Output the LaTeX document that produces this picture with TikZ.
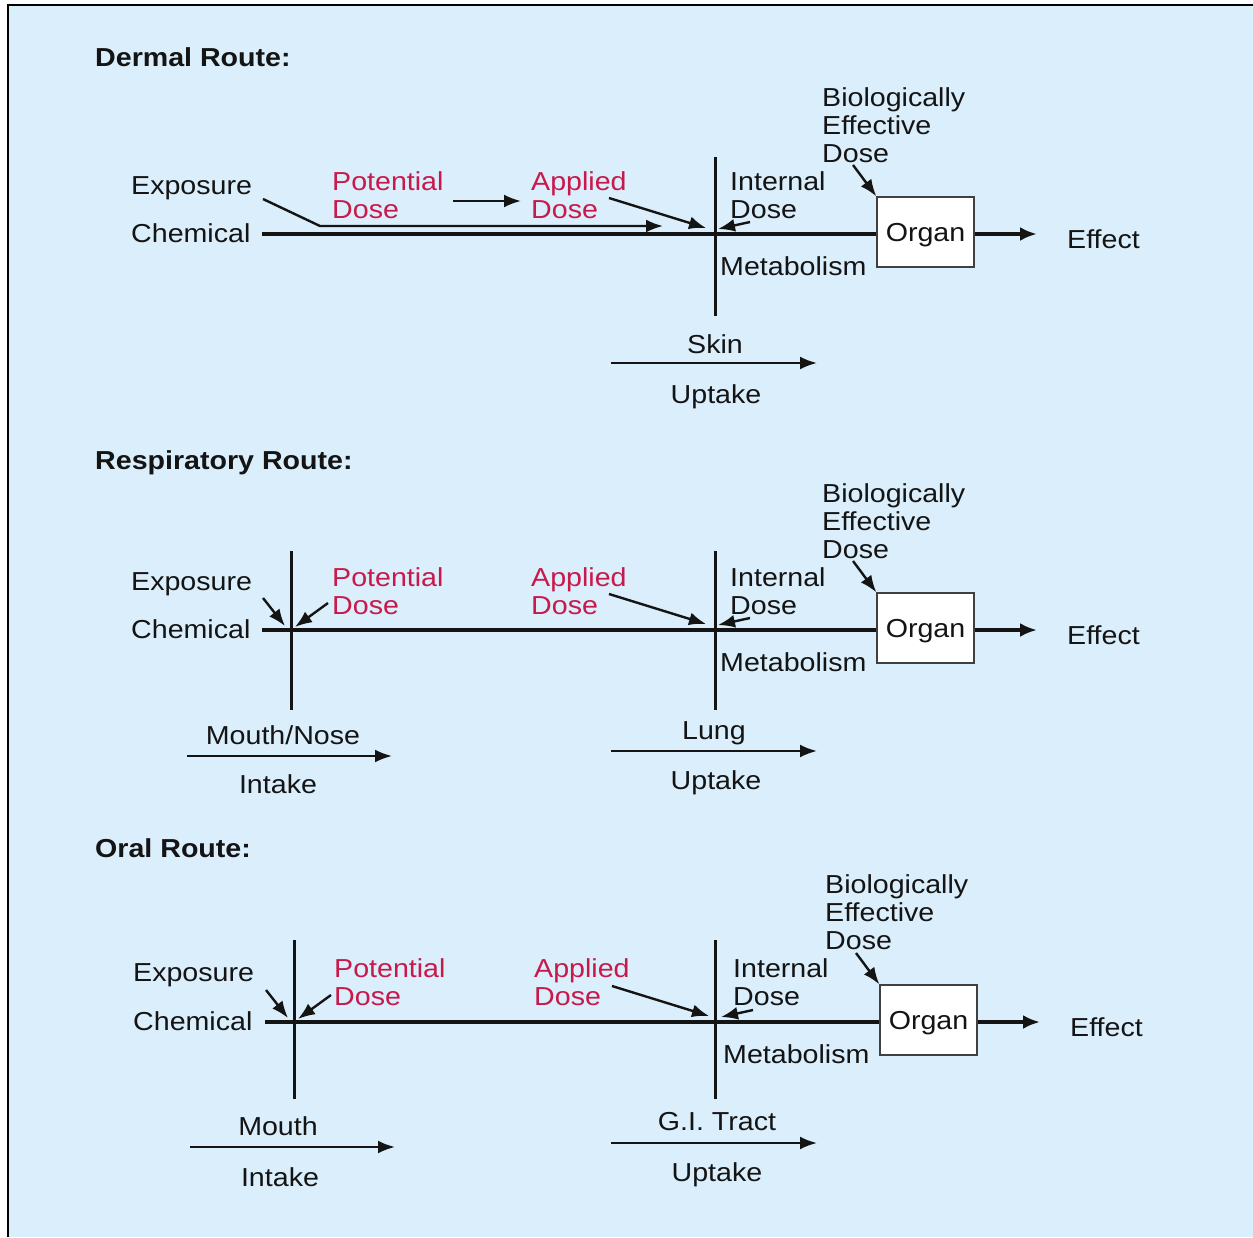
\documentclass[tikz,border=0pt]{standalone}
\usepackage{fontspec}
\setmainfont{Liberation Sans}[FakeStretch=1.1]
\usetikzlibrary{arrows.meta}
\definecolor{bgblue}{RGB}{219,238,251}
\definecolor{dosered}{RGB}{200,25,75}
\definecolor{ink}{RGB}{20,20,20}
\begin{document}
\begin{tikzpicture}[x=1pt,y=-1pt,
  txt/.style={inner sep=0pt, font=\fontsize{26}{28}\selectfont, text=ink},
  lbl/.style={txt, anchor=base west},
  ctr/.style={txt, anchor=base},
  mlbl/.style={txt, anchor=north west, align=left},
  redlbl/.style={mlbl, text=dosered},
  ttl/.style={txt, anchor=base west, font=\fontsize{26}{28}\selectfont\bfseries},
  mainln/.style={line width=3.5pt, draw=ink},
  vertln/.style={line width=3pt, draw=ink},
  thinarr/.style={line width=2.4pt, draw=ink, -{Latex[length=17pt,width=13pt]}},
  thickarr/.style={line width=3.5pt, draw=ink, -{Latex[length=17pt,width=14pt]}},
  organ/.style={txt, draw=black!75, line width=1.3pt, fill=white, minimum width=97pt, minimum height=70pt, text depth=0pt}
]
\useasboundingbox (0,0) rectangle (1253,1237);
\fill[white] (0,0) rectangle (1253,1237);
\fill[bgblue] (8,5) rectangle (1253,1237);
\draw[black, line width=2.5pt] (8,1237) -- (8,5) -- (1253,5);

%% ---------------- Dermal ----------------
\node[ttl] (t1) at (95,66) {Dermal Route:};
\node[lbl] (exp1) at (131,194) {Exposure};
\node[lbl] (chem1) at (131,242) {Chemical};
\node[redlbl] (pot1) at (332,171) {Potential\\Dose};
\node[redlbl] (app1) at (531,171) {Applied\\Dose};
\node[mlbl] (int1) at (730,171) {Internal\\Dose};
\node[mlbl] (bed1) at (822,87) {Biologically\\Effective\\Dose};
\node[lbl] (met1) at (720,275) {Metabolism};
\node[organ] (org1) at (925.5,232) {Organ};
\node[lbl] (eff1) at (1067,248) {Effect};
\node[ctr] (skin) at (715,353) {Skin};
\node[ctr] (upt1) at (716,403) {Uptake};

\coordinate (m1s) at (262,234);
\coordinate (v1t) at (715,157); \coordinate (v1b) at (715,316);
\coordinate (e1a) at (263,199); \coordinate (e1b) at (320,226); \coordinate (e1c) at (663,226);
\coordinate (pa1a) at (453,201); \coordinate (pa1b) at (521,201);
\coordinate (ap1a) at (609,198); \coordinate (ap1b) at (706,228);
\coordinate (in1a) at (750,222); \coordinate (in1b) at (718,229);
\coordinate (bd1a) at (853,165);
\coordinate (ef1) at (1037,234);
\coordinate (sk1a) at (611,363); \coordinate (sk1b) at (817,363);

\draw[mainln] (m1s) -- (org1.west |- m1s);
\draw[vertln] (v1t) -- (v1b);
\draw[thinarr] (e1a) -- (e1b) -- (e1c);
\draw[thinarr] (pa1a) -- (pa1b);
\draw[thinarr] (ap1a) -- (ap1b);
\draw[thinarr] (in1a) -- (in1b);
\draw[thinarr] (bd1a) -- (org1.north west);
\draw[thickarr] (org1.east |- ef1) -- (ef1);
\draw[thinarr] (sk1a) -- (sk1b);

%% ---------------- Respiratory ----------------
\node[ttl] (t2) at (95,469) {Respiratory Route:};
\node[lbl] (exp2) at (131,590) {Exposure};
\node[lbl] (chem2) at (131,638) {Chemical};
\node[redlbl] (pot2) at (332,567) {Potential\\Dose};
\node[redlbl] (app2) at (531,567) {Applied\\Dose};
\node[mlbl] (int2) at (730,567) {Internal\\Dose};
\node[mlbl] (bed2) at (822,483) {Biologically\\Effective\\Dose};
\node[lbl] (met2) at (720,671) {Metabolism};
\node[organ] (org2) at (925.5,628) {Organ};
\node[lbl] (eff2) at (1067,644) {Effect};
\node[ctr] (mn) at (283,744) {Mouth/Nose};
\node[ctr] (intk2) at (278,793) {Intake};
\node[ctr] (lung) at (714,739) {Lung};
\node[ctr] (upt2) at (716,789) {Uptake};

\coordinate (m2s) at (262,630);
\coordinate (v2at) at (291,551); \coordinate (v2ab) at (291,710);
\coordinate (v2bt) at (715,551); \coordinate (v2bb) at (715,710);
\coordinate (ex2a) at (263,598); \coordinate (ex2b) at (285,626);
\coordinate (po2a) at (328,603); \coordinate (po2b) at (295,627);
\coordinate (ap2a) at (609,594); \coordinate (ap2b) at (706,624);
\coordinate (in2a) at (750,618); \coordinate (in2b) at (718,625);
\coordinate (bd2a) at (853,561);
\coordinate (ef2) at (1037,630);
\coordinate (ik2a) at (187,756); \coordinate (ik2b) at (392,756);
\coordinate (uk2a) at (611,751); \coordinate (uk2b) at (817,751);

\draw[mainln] (m2s) -- (org2.west |- m2s);
\draw[vertln] (v2at) -- (v2ab);
\draw[vertln] (v2bt) -- (v2bb);
\draw[thinarr] (ex2a) -- (ex2b);
\draw[thinarr] (po2a) -- (po2b);
\draw[thinarr] (ap2a) -- (ap2b);
\draw[thinarr] (in2a) -- (in2b);
\draw[thinarr] (bd2a) -- (org2.north west);
\draw[thickarr] (org2.east |- ef2) -- (ef2);
\draw[thinarr] (ik2a) -- (ik2b);
\draw[thinarr] (uk2a) -- (uk2b);

%% ---------------- Oral ----------------
\node[ttl] (t3) at (95,857) {Oral Route:};
\node[lbl] (exp3) at (133,981) {Exposure};
\node[lbl] (chem3) at (133,1030) {Chemical};
\node[redlbl] (pot3) at (334,958) {Potential\\Dose};
\node[redlbl] (app3) at (534,958) {Applied\\Dose};
\node[mlbl] (int3) at (733,958) {Internal\\Dose};
\node[mlbl] (bed3) at (825,874) {Biologically\\Effective\\Dose};
\node[lbl] (met3) at (723,1063) {Metabolism};
\node[organ] (org3) at (928.5,1020) {Organ};
\node[lbl] (eff3) at (1070,1036) {Effect};
\node[ctr] (mouth) at (278,1135) {Mouth};
\node[ctr] (intk3) at (280,1186) {Intake};
\node[ctr] (gi) at (717,1130) {G.I. Tract};
\node[ctr] (upt3) at (717,1181) {Uptake};

\coordinate (m3s) at (265,1022);
\coordinate (v3at) at (294,940); \coordinate (v3ab) at (294,1099);
\coordinate (v3bt) at (715,940); \coordinate (v3bb) at (715,1099);
\coordinate (ex3a) at (266,990); \coordinate (ex3b) at (288,1018);
\coordinate (po3a) at (331,995); \coordinate (po3b) at (298,1019);
\coordinate (ap3a) at (612,986); \coordinate (ap3b) at (709,1016);
\coordinate (in3a) at (753,1010); \coordinate (in3b) at (721,1017);
\coordinate (bd3a) at (856,953);
\coordinate (ef3) at (1040,1022);
\coordinate (ik3a) at (190,1147); \coordinate (ik3b) at (395,1147);
\coordinate (uk3a) at (611,1143); \coordinate (uk3b) at (817,1143);

\draw[mainln] (m3s) -- (org3.west |- m3s);
\draw[vertln] (v3at) -- (v3ab);
\draw[vertln] (v3bt) -- (v3bb);
\draw[thinarr] (ex3a) -- (ex3b);
\draw[thinarr] (po3a) -- (po3b);
\draw[thinarr] (ap3a) -- (ap3b);
\draw[thinarr] (in3a) -- (in3b);
\draw[thinarr] (bd3a) -- (org3.north west);
\draw[thickarr] (org3.east |- ef3) -- (ef3);
\draw[thinarr] (ik3a) -- (ik3b);
\draw[thinarr] (uk3a) -- (uk3b);
\end{tikzpicture}
\end{document}
